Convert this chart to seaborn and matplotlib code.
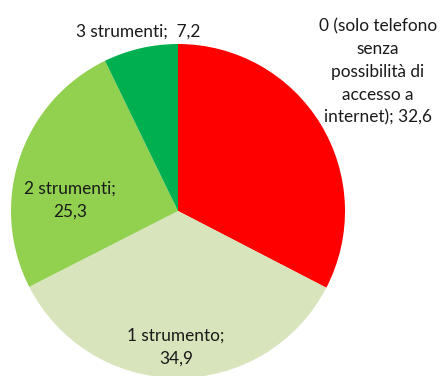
import matplotlib
matplotlib.use("Agg")
import matplotlib.pyplot as plt
import seaborn as sns

# Number of instruments available for remote learning (percent of students)
categories = [
    "0 (solo telefono\nsenza\npossibilità di\naccesso a\ninternet)",
    "1 strumento;",
    "2 strumenti;",
    "3 strumenti;",
]
values = [32.6, 34.9, 25.3, 7.2]
colors = ["#ff0000", "#d8e4bc", "#92d050", "#00b050"]

sns.set_theme(style="white")
plt.rcParams["font.family"] = ["Lato", "DejaVu Sans"]

W, H = 448, 376
fig = plt.figure(figsize=(W / 100, H / 100), dpi=100)
ax = fig.add_axes([0, 0, 1, 1])

center = (178, H - 211)
radius = 167
ax.pie(values, colors=colors, startangle=90, counterclock=False,
       center=center, radius=radius, frame=True,
       wedgeprops=dict(linewidth=0))
ax.set_xlim(0, W)
ax.set_ylim(0, H)
ax.set_aspect("equal")
ax.axis("off")

def fmt(v):
    return f"{v:.1f}".replace(".", ",")

# label placement (pixel positions, y measured from the top)
label_pos = [(378, 72), (176, 347), (70, 200), (138, 32)]
label_text = [
    f"{categories[0]}; {fmt(values[0])}",
    f"{categories[1]}\n{fmt(values[1])}",
    f"{categories[2]}\n{fmt(values[2])}",
    f"{categories[3]}  {fmt(values[3])}",
]
for (x, y), t in zip(label_pos, label_text):
    ax.text(x, H - y, t, ha="center", va="center", fontsize=12.4,
            color="#1a1a1a", linespacing=1.52, multialignment="center")

fig.savefig("out.png", dpi=100)
